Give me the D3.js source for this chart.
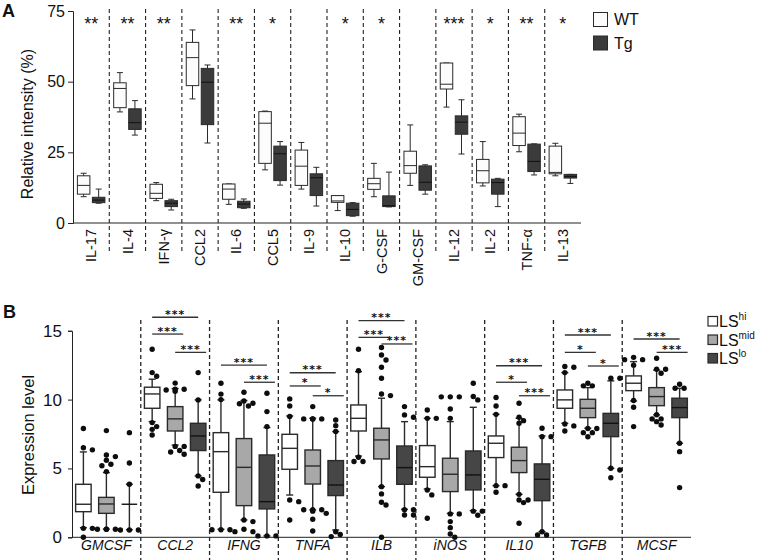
<!DOCTYPE html>
<html><head><meta charset="utf-8">
<script src="https://cdn.jsdelivr.net/npm/d3@7"></script>
<style>
body{margin:0;background:#fff}
svg{display:block}
text{font-family:"Liberation Sans", Arial, Helvetica, sans-serif;fill:#111}
</style>
</head><body>
<svg id="c" width="761" height="560"></svg>
<script>
// ---------- Panel A data: [min, q1, median, q3, max] ----------
const catsA = ["IL-17","IL-4","IFN-\u03b3","CCL2","IL-6","CCL5","IL-9","IL-10","G-CSF","GM-CSF","IL-12","IL-2","TNF-\u03b1","IL-13"];
const seriesA = ["WT","Tg"];
const wtA = [
  [9.3,10.2,13.3,16.7,17.6],
  [39.3,40.8,47.6,49.6,53.2],
  [7.9,8.7,10.5,13.7,14.3],
  [43.9,48.6,58.5,63.9,68.3],
  [6.6,8.4,12.0,13.8,13.8],
  [18.8,21.1,35.3,39.4,39.6],
  [12.0,13.3,20.1,25.8,28.5],
  [4.4,7.3,7.8,9.7,9.7],
  [9.3,11.9,13.9,15.8,21.1],
  [13.3,17.6,20.3,25.4,34.7],
  [41.0,47.4,49.1,56.6,56.6],
  [13.1,14.2,18.5,22.5,28.8],
  [25.2,27.4,31.8,37.6,38.5],
  [16.7,17.4,17.9,27.2,28.2]
];
const tgA = [
  [7.0,7.2,8.1,9.1,12.0],
  [31.1,33.1,35.5,40.4,43.3],
  [4.6,5.8,7.0,7.9,8.4],
  [28.3,34.8,49.8,54.7,55.9],
  [5.2,5.4,6.7,7.7,8.5],
  [13.4,15.0,24.5,27.2,28.8],
  [6.0,9.7,16.0,17.4,19.7],
  [2.4,2.6,4.8,7.0,7.2],
  [5.7,5.8,6.1,9.6,18.0],
  [10.2,11.6,14.4,20.2,20.6],
  [24.4,31.4,35.7,37.9,43.6],
  [5.8,10.2,14.3,15.5,15.8],
  [17.0,18.2,21.8,27.9,28.0],
  [14.0,15.9,16.5,17.2,17.2]
];
const sigA = ["**","**","**","","**","*","","*","*","","***","*","**","*"];
const yTicksA = [0,25,50,75];

// ---------- Panel B data ----------
const catsB = ["GMCSF","CCL2","IFNG","TNFA","ILB","iNOS","IL10","TGFB","MCSF"];
const groupsB = ["hi","mid","lo"];
const hiB = [
  [0.7,1.86,2.4,3.85,6.2],
  [8.4,9.37,10.41,10.9,11.48],
  [0.58,3.27,6.22,7.6,9.98],
  [3.07,4.94,6.46,7.48,8.81],
  [5.9,7.72,8.64,9.61,12.03],
  [3.51,4.36,5.13,6.66,8.64],
  [3.75,5.79,6.83,7.36,8.93],
  [8.28,9.37,9.98,10.7,11.96],
  [9.9,10.65,11.19,11.72,12.76]
];
const midB = [
  [0.6,1.74,2.42,2.9,4.7],
  [6.7,7.72,8.6,9.49,10.8],
  [1.26,2.3,5.08,7.17,9.93],
  [1.99,3.87,5.18,6.34,8.64],
  [3.68,5.69,7.07,7.92,10.1],
  [1.74,3.32,4.58,5.74,8.4],
  [3.12,4.7,5.57,6.54,8.64],
  [7.92,8.69,9.37,10.02,10.87],
  [8.89,9.56,10.22,10.87,12.15]
];
const loB = [
  [0.55,2.4,2.4,2.4,3.85],
  [4.46,6.3,7.36,8.28,9.98],
  [0.1,2.06,2.59,5.98,7.97],
  [0.53,3.03,3.8,5.57,7.68],
  [2.03,3.85,5.06,6.63,8.4],
  [1.94,3.44,4.53,6.27,9.44],
  [0.41,2.66,4.21,5.33,7.36],
  [5.01,7.31,8.28,9.0,11.36],
  [6.83,8.69,9.42,10.1,10.82]
];
const hiOut = [
  [7.9,6.5,6.35,0.65,0.65,0.0],
  [13.66,11.96,11.7,8.33,8.04,7.84,7.43],
  [11.19,10.4,10.0,0.55,0.55,0.55],
  [10.05,9.54,8.77,2.71,2.59,1.26],
  [13.66,12.1,5.81,5.5,5.5],
  [9.25,8.64,8.64,3.44,3.08,1.38],
  [10.15,9.54,8.93,3.75,3.75,3.27],
  [12.4,12.35,11.96,8.23,8.09,7.72],
  [13.07,12.9,12.9,12.5,9.93,9.44,8.04]
];
const midOut = [
  [7.75,5.98,5.86,5.6,5.3,5.2,4.77,0.58,0.58,0.58,0.58],
  [11.2,10.75,10.75,10.7,10.6,6.6,6.6,6.3,6.2,6.03],
  [10.53,9.9,9.73,9.54,9.7,1.26,1.14,0.58,0.41,0.41],
  [9.49,8.6,8.6,8.6,8.6,2.0,2.0,2.0,1.9,1.74,1.31,0.46],
  [13.78,13.24,12.88,12.35,11.55,10.41,10.29,3.68,3.15,2.54,2.35,0],
  [10.2,10.2,10.2,9.32,8.64,1.7,1.7,1.14,0.7,0.24,0],
  [9.73,8.72,8.47,8.28,3.12,2.71,2.71,2.52,1.02],
  [11.19,11.0,11.0,7.9,7.9,7.6,7.6,7.3],
  [13.0,12.2,12.2,11.91,8.9,8.6,8.6,8.4,8.16]
];
const loOut = [
  [7.6,5.4,3.85,0.53,0.53,0.53],
  [11.96,9.98,4.46,4.2,3.73],
  [10.46,9.13,8.04,0.1,0.1,0.1],
  [8.52,8.11,7.68,0.4,0.2,0.05],
  [9.49,8.89,8.72,2.0,1.62,1.62,2.0],
  [11.19,10.22,9.98,1.9,1.9,1.6],
  [7.92,7.31,7.31,0.4,0.17,0.17],
  [11.55,11.55,5.01,4.89,4.33],
  [11.11,10.82,10.82,6.83,6.22,3.61]
];
// [category, group a, group b, label, bar level (y units)]
const sigB = [
  ["CCL2","hi","lo","***",15.98],["CCL2","hi","mid","***",14.76],["CCL2","mid","lo","***",13.43],
  ["IFNG","hi","lo","***",12.51],["IFNG","mid","lo","***",11.26],
  ["TNFA","hi","lo","***",11.95],["TNFA","hi","mid","*",10.99],["TNFA","mid","lo","*",10.28],
  ["ILB","hi","lo","***",15.73],["ILB","hi","mid","***",14.52],["ILB","mid","lo","***",14.04],
  ["IL10","hi","lo","***",12.46],["IL10","hi","mid","*",11.26],["IL10","mid","lo","***",10.28],
  ["TGFB","hi","lo","***",14.69],["TGFB","hi","mid","*",13.43],["TGFB","mid","lo","*",12.44],
  ["MCSF","hi","lo","***",14.4],["MCSF","mid","lo","***",13.43]
];
const yTicksB = [0,5,10,15];
const legendB = [["hi","LS","hi"],["mid","LS","mid"],["lo","LS","lo"]];

// ---------- drawing ----------
const svg = d3.select("#c");
const STROKE = "#2a2a2a";

function boxplot(g, cx, st, w, y, fill, medStroke, sw, capW){
  const [mn,q1,md,q3,mx] = st;
  g.append("line").attr("x1",cx).attr("x2",cx).attr("y1",y(mn)).attr("y2",y(mx))
    .attr("stroke",STROKE).attr("stroke-width",sw);
  [mn,mx].forEach(v=>g.append("line").attr("x1",cx-capW/2).attr("x2",cx+capW/2)
    .attr("y1",y(v)).attr("y2",y(v)).attr("stroke",STROKE).attr("stroke-width",sw));
  g.append("rect").attr("x",cx-w/2).attr("width",w).attr("y",y(q3))
    .attr("height",Math.max(0,y(q1)-y(q3))).attr("fill",fill).attr("stroke",STROKE).attr("stroke-width",sw);
  g.append("line").attr("x1",cx-w/2).attr("x2",cx+w/2).attr("y1",y(md)).attr("y2",y(md))
    .attr("stroke",medStroke).attr("stroke-width",sw);
}

// ===== Panel A =====
const xA = d3.scaleBand().domain(catsA).range([73,581]);
const yA = d3.scaleLinear().domain([0,75]).range([223,11]);
const gA = d3.scalePoint().domain(seriesA).range([-7.5,7.5]);
const colA = {WT:"#fcfcfc", Tg:"#3b3b3b"};
const pA = svg.append("g");

catsA.slice(1).forEach(c=>{
  pA.append("line").attr("x1",xA(c)).attr("x2",xA(c)).attr("y1",9).attr("y2",251)
    .attr("stroke","#222").attr("stroke-width",1.1).attr("stroke-dasharray","4,3");
});
const axYA = pA.append("g").attr("transform","translate(73,0)")
  .call(d3.axisLeft(yA).tickValues(yTicksA).tickSize(5).tickPadding(3));
axYA.select(".domain").attr("stroke","#222");
axYA.selectAll(".tick line").attr("stroke","#222");
axYA.selectAll("text").style("font-size","16px").attr("fill","#111");
const axXA = pA.append("g").attr("transform","translate(0,223)")
  .call(d3.axisBottom(xA).tickSize(0).tickPadding(0));
axXA.select(".domain").attr("stroke","#222").attr("d","M73,0H581");
axXA.selectAll("text").attr("transform","rotate(-90)").attr("text-anchor","end")
  .attr("x",-6).attr("y",0).attr("dy","0.35em").style("font-size","14.5px").attr("fill","#111");

catsA.forEach((c,i)=>{
  const cx = xA(c)+xA.bandwidth()/2;
  boxplot(pA, cx+gA("WT"), wtA[i], 12.5, yA, colA.WT, STROKE, 1, 6);
  boxplot(pA, cx+gA("Tg"), tgA[i], 12.5, yA, colA.Tg, "#111", 1, 6);
  if(sigA[i]) pA.append("text").attr("x",cx).attr("y",30).attr("text-anchor","middle")
    .style("font-size","18px").text(sigA[i]);
});
pA.append("text").attr("transform","translate(33,124) rotate(-90)").attr("text-anchor","middle")
  .style("font-size","16px").text("Relative intensity (%)");
pA.append("text").attr("x",2).attr("y",17).style("font-size","18px").style("font-weight","bold").text("A");
seriesA.forEach((s,i)=>{
  pA.append("rect").attr("x",593.5).attr("y",12.5+i*23.5).attr("width",14).attr("height",14)
    .attr("fill",colA[s]).attr("stroke",STROKE).attr("stroke-width",1);
  pA.append("text").attr("x",614).attr("y",25+i*23.5).style("font-size","16px").text(s);
});

// ===== Panel B =====
const xB = d3.scaleBand().domain(catsB).range([72,691]);
const yB = d3.scaleLinear().domain([0,15]).range([537.3,330.75]);
const gB = d3.scalePoint().domain(groupsB).range([-23,23]);
const colB = {hi:"#ffffff", mid:"#a8a8a8", lo:"#464646"};
const statsB = {hi:hiB, mid:midB, lo:loB};
const outB = {hi:hiOut, mid:midOut, lo:loOut};
const pB = svg.append("g");

catsB.slice(1).forEach(c=>{
  pB.append("line").attr("x1",xB(c)).attr("x2",xB(c)).attr("y1",320).attr("y2",560)
    .attr("stroke","#222").attr("stroke-width",1.3).attr("stroke-dasharray","4,3");
});
const axYB = pB.append("g").attr("transform","translate(72,0)")
  .call(d3.axisLeft(yB).tickValues(yTicksB).tickSize(4).tickPadding(6));
axYB.select(".domain").attr("stroke","#222");
axYB.selectAll(".tick line").attr("stroke","#222");
axYB.selectAll("text").style("font-size","17px").attr("fill","#111");
const axXB = pB.append("g").attr("transform","translate(0,537.3)")
  .call(d3.axisBottom(xB).tickSize(0).tickPadding(3));
axXB.select(".domain").attr("stroke","#222").attr("d","M72,0H691");
axXB.selectAll("text").style("font-size","14px").style("font-style","italic").attr("fill","#111");

const R = 2.7;
catsB.forEach((c,i)=>{
  const cx = xB(c)+xB.bandwidth()/2;
  groupsB.forEach(gname=>{
    const gx = cx+gB(gname);
    boxplot(pB, gx, statsB[gname][i], 15.5, yB, colB[gname], gname==="lo"?"#111":STROKE, 1.4, 7);
    const placed = [];
    outB[gname][i].slice().sort((a,b)=>b-a).forEach(v=>{
      const py = yB(v);
      const offs = [0,4.5,-4.5,9,-9,13.5,-13.5];
      let px = gx;
      for(const o of offs){
        if(placed.every(p=>Math.hypot(p[0]-(gx+o),p[1]-py) >= 2*R*0.95)){ px = gx+o; break; }
      }
      placed.push([px,py]);
      pB.append("circle").attr("cx",px).attr("cy",py).attr("r",R).attr("fill","#0d0d0d");
    });
  });
});
sigB.forEach(([c,a,b,lab,lv])=>{
  const cx = xB(c)+xB.bandwidth()/2;
  const adj = Math.abs(groupsB.indexOf(a)-groupsB.indexOf(b))===1;
  const x1 = cx+gB(a), x2 = cx+gB(b)+(adj?8:0);
  const yy = yB(lv);
  pB.append("line").attr("x1",x1).attr("x2",x2).attr("y1",yy).attr("y2",yy)
    .attr("stroke","#333").attr("stroke-width",1.3);
  pB.append("text").attr("x",(x1+x2)/2).attr("y",yy+0.5).attr("text-anchor","middle")
    .style("font-family","'DejaVu Sans', sans-serif").style("font-weight","bold")
    .style("font-size","11px").style("letter-spacing","1px").text(lab);
});
pB.append("text").attr("transform","translate(34,435) rotate(-90)").attr("text-anchor","middle")
  .style("font-size","16.5px").text("Expression level");
pB.append("text").attr("x",3).attr("y",318).style("font-size","18px").style("font-weight","bold").text("B");
legendB.forEach(([g,base,sup],i)=>{
  pB.append("rect").attr("x",708).attr("y",316.5+i*18.5).attr("width",9.5).attr("height",9.5)
    .attr("fill",colB[g]).attr("stroke",STROKE).attr("stroke-width",1.2);
  const t = pB.append("text").attr("x",719).attr("y",327+i*18.5).style("font-size","16px");
  t.append("tspan").text(base);
  t.append("tspan").attr("dy",-7).style("font-size","10px").text(sup);
});
</script>
</body></html>
